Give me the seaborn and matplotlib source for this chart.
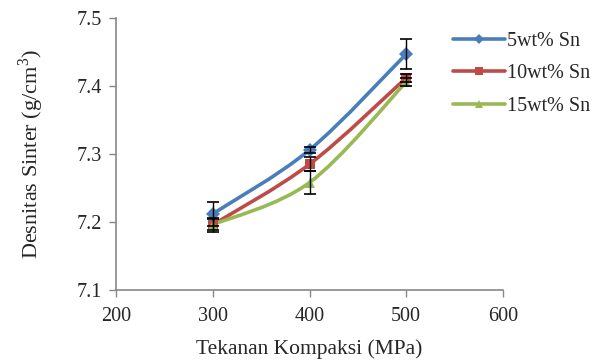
import numpy as np
import pandas as pd
import matplotlib
matplotlib.use("Agg")
import matplotlib.pyplot as plt
from matplotlib.path import Path
from matplotlib.patches import PathPatch
from matplotlib.lines import Line2D
import seaborn as sns

pressure = [300, 400, 500]
series_names = ["5wt% Sn", "10wt% Sn", "15wt% Sn"]
dens_5 = [7.212, 7.306, 7.447]
dens_10 = [7.196, 7.285, 7.412]
dens_15 = [7.196, 7.258, 7.406]
err_5 = [0.018, 0.005, 0.022]
err_10 = [0.008, 0.010, 0.006]
err_15 = [0.010, 0.017, 0.006]
x_ticks = [200, 300, 400, 500, 600]
y_ticks = [7.1, 7.2, 7.3, 7.4, 7.5]

colors = ["#4a7ebb", "#be4b48", "#98b954"]
markers = ["D", "s", "^"]
msizes = [6, 7, 7]

rows = []
for name, d, e in zip(series_names, [dens_5, dens_10, dens_15], [err_5, err_10, err_15]):
    for p, v, ee in zip(pressure, d, e):
        rows.append({"Tekanan": p, "Densitas": v, "err": ee, "Seri": name})
df = pd.DataFrame(rows)

sns.set_style("white")
plt.rcParams['font.family'] = ['Liberation Serif', 'DejaVu Serif']
plt.rcParams['mathtext.fontset'] = 'custom'
plt.rcParams['mathtext.rm'] = 'Liberation Serif'

fig = plt.figure(figsize=(6.11, 3.60), dpi=100)
ax = fig.add_axes([116 / 611, 1 - 290 / 360, (503 - 116) / 611, (290 - 18) / 360])


def smooth_path(xs, ys, t=1 / 6):
    xs = np.asarray(xs, float)
    ys = np.asarray(ys, float)
    n = len(xs)
    verts = [(xs[0], ys[0])]
    codes = [Path.MOVETO]
    for i in range(n - 1):
        p0 = (xs[max(i - 1, 0)], ys[max(i - 1, 0)])
        p1 = (xs[i], ys[i])
        p2 = (xs[i + 1], ys[i + 1])
        p3 = (xs[min(i + 2, n - 1)], ys[min(i + 2, n - 1)])
        c1 = (p1[0] + (p2[0] - p0[0]) * t, p1[1] + (p2[1] - p0[1]) * t)
        c2 = (p2[0] - (p3[0] - p1[0]) * t, p2[1] - (p3[1] - p1[1]) * t)
        verts += [c1, c2, p2]
        codes += [Path.CURVE4] * 3
    return Path(verts, codes)


for name, c in zip(series_names, colors):
    sub = df[df["Seri"] == name]
    ax.add_patch(PathPatch(smooth_path(sub["Tekanan"], sub["Densitas"]),
                           facecolor="none", edgecolor=c, lw=2.6, zorder=2))
    ax.errorbar(sub["Tekanan"], sub["Densitas"], yerr=sub["err"], fmt="none",
                ecolor="black", elinewidth=1.0, capsize=4, capthick=1.2, zorder=5)

sns.lineplot(data=df, x="Tekanan", y="Densitas", hue="Seri", style="Seri",
             palette=colors, markers=markers, dashes=False, lw=0,
             markersize=7, markeredgewidth=0, ax=ax, legend=False, zorder=4)

handles = [Line2D([0], [0], color=c, lw=2.6, marker=m, markersize=ms * 0.8, markeredgewidth=0)
           for c, m, ms in zip(colors, markers, msizes)]
ax.legend(handles, series_names, loc="upper left", bbox_to_anchor=(0.87, 0.95),
          frameon=False, fontsize=14.5, handlelength=2.6, handletextpad=0.1,
          labelspacing=0.68, borderaxespad=0, borderpad=0)

ax.set_xlim(200, 600)
ax.set_ylim(7.1, 7.5)
ax.set_xticks(x_ticks)
ax.set_yticks(y_ticks)
ax.set_xticklabels([str(v) for v in x_ticks])
ax.set_yticklabels([f"{v:.1f}" for v in y_ticks])
ax.tick_params(axis="both", direction="out", length=5, width=1, color="#878787",
               labelsize=14.5, bottom=True, left=True)
ax.tick_params(axis="x", pad=7)
ax.tick_params(axis="y", pad=5)
for s in ["top", "right"]:
    ax.spines[s].set_visible(False)
for s in ["left", "bottom"]:
    ax.spines[s].set_color("#878787")
    ax.spines[s].set_linewidth(1.2)
ax.set_xlabel("Tekanan Kompaksi (MPa)", fontsize=15.5, labelpad=10)
ax.set_ylabel("Desnitas Sinter (g/cm$^3$)", fontsize=16, labelpad=22)
ax.grid(False)

fig.savefig("out.png", dpi=100)
